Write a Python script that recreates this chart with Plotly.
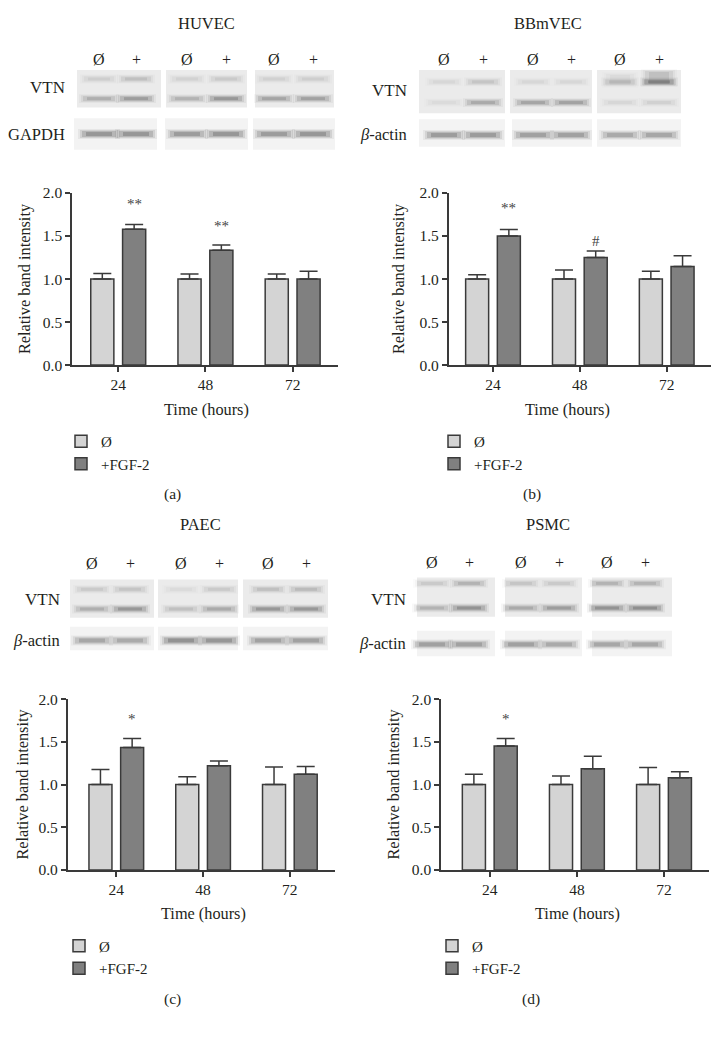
import plotly.graph_objects as go

# ---------------- data ----------------
times = ["24", "48", "72"]
series_names = ["Ø", "+FGF-2"]

huvec_ctrl = [1.0, 1.0, 1.0]
huvec_ctrl_err = [0.065, 0.06, 0.06]
huvec_fgf = [1.58, 1.335, 1.0]
huvec_fgf_err = [0.055, 0.06, 0.09]
huvec_sig = ["**", "**", ""]
huvec_sig_y = [1.87, 1.62, 0]

bbmvec_ctrl = [1.0, 1.0, 1.0]
bbmvec_ctrl_err = [0.05, 0.105, 0.09]
bbmvec_fgf = [1.5, 1.25, 1.145]
bbmvec_fgf_err = [0.075, 0.075, 0.125]
bbmvec_sig = ["**", "#", ""]
bbmvec_sig_y = [1.83, 1.44, 0]

paec_ctrl = [1.0, 1.0, 1.0]
paec_ctrl_err = [0.175, 0.09, 0.205]
paec_fgf = [1.435, 1.22, 1.12]
paec_fgf_err = [0.105, 0.055, 0.09]
paec_sig = ["*", "", ""]
paec_sig_y = [1.77, 0, 0]

psmc_ctrl = [1.0, 1.0, 1.0]
psmc_ctrl_err = [0.12, 0.1, 0.2]
psmc_fgf = [1.45, 1.185, 1.08]
psmc_fgf_err = [0.09, 0.145, 0.07]
psmc_sig = ["*", "", ""]
psmc_sig_y = [1.77, 0, 0]

yticks = [0, 0.5, 1.0, 1.5, 2.0]
lane_labels = ["Ø", "+", "Ø", "+", "Ø", "+"]

# western blot band intensities (lanes 1..6)
huvec_vtn_upper = [0.22, 0.35, 0.18, 0.25, 0.2, 0.22]
huvec_vtn_lower = [0.5, 0.7, 0.45, 0.75, 0.6, 0.65]
huvec_load = [0.8, 0.8, 0.75, 0.8, 0.75, 0.8]
bbmvec_vtn_upper = [0.15, 0.3, 0.15, 0.15, 0.3, 0.75]
bbmvec_vtn_lower = [0.1, 0.55, 0.6, 0.65, 0.15, 0.2]
bbmvec_load = [0.75, 0.75, 0.7, 0.7, 0.6, 0.65]
paec_vtn_upper = [0.25, 0.3, 0.12, 0.25, 0.35, 0.4]
paec_vtn_lower = [0.5, 0.75, 0.35, 0.55, 0.75, 0.75]
paec_load = [0.65, 0.6, 0.85, 0.8, 0.7, 0.7]
psmc_vtn_upper = [0.25, 0.45, 0.3, 0.25, 0.45, 0.45]
psmc_vtn_lower = [0.45, 0.8, 0.55, 0.7, 0.8, 0.85]
psmc_load = [0.7, 0.7, 0.7, 0.6, 0.65, 0.65]

# ---------------- layout helpers ----------------
PAGE_W, PAGE_H = 722, 1039
BODY = 8  # default page margin around the plot div
W, H = PAGE_W - 2 * BODY, PAGE_H - 2 * BODY
FONT = "Liberation Serif"
TXT = "#231f20"
AX = "#3a3a3a"
LIGHT = "#d4d4d4"
DARK = "#808080"


def X(px):
    return (px - BODY) / W


def Y(py):
    return 1 - (py - BODY) / H


panels = [
    dict(name="HUVEC", loading="GAPDH", ctrl=huvec_ctrl, ctrl_err=huvec_ctrl_err,
         fgf=huvec_fgf, fgf_err=huvec_fgf_err, sig=huvec_sig, sig_y=huvec_sig_y,
         up=huvec_vtn_upper, low=huvec_vtn_lower, load=huvec_load,
         xdom=(72, 338), ydom=(187, 362), xr=(-0.53, 2.52),
         title_xy=(206, 15), lanes=[99, 136, 187, 226, 274, 313], sign_y=51,
         vtn_boxes=[(77, 161), (166, 247), (255, 334)], vtn_y=(62, 100),
         load_boxes=[(74, 157), (165, 248), (253, 335)], load_y=(111, 143),
         up_y=71, low_y=91, load_band_y=127, label_r=67, vtn_label_y=80, load_label_y=127,
         ytitle_x=24, xtitle=(206, 407), legend=(61, 423), plabel=(172, 493)),
    dict(name="BBmVEC", loading="<i>β</i>-actin", ctrl=bbmvec_ctrl, ctrl_err=bbmvec_ctrl_err,
         fgf=bbmvec_fgf, fgf_err=bbmvec_fgf_err, sig=bbmvec_sig, sig_y=bbmvec_sig_y,
         up=bbmvec_vtn_upper, low=bbmvec_vtn_lower, load=bbmvec_load,
         xdom=(448.7, 711), ydom=(187, 362), xr=(-0.51, 2.51),
         title_xy=(548, 15), lanes=[444, 483, 533, 571, 620, 659], sign_y=51,
         vtn_boxes=[(419, 505), (510, 592), (597, 681)], vtn_y=(62, 106),
         load_boxes=[(419, 505), (512, 592), (597, 681)], load_y=(112, 140),
         up_y=74, low_y=95, load_band_y=128, label_r=409, vtn_label_y=83, load_label_y=127,
         ytitle_x=398, xtitle=(567, 407), legend=(434, 423), plabel=(532, 493)),
    dict(name="PAEC", loading="<i>β</i>-actin", ctrl=paec_ctrl, ctrl_err=paec_ctrl_err,
         fgf=paec_fgf, fgf_err=paec_fgf_err, sig=paec_sig, sig_y=paec_sig_y,
         up=paec_vtn_upper, low=paec_vtn_lower, load=paec_load,
         xdom=(67.7, 335), ydom=(701.7, 875.3), xr=(-0.56, 2.52),
         title_xy=(200, 524), lanes=[92, 130, 181, 219, 268, 306], sign_y=564,
         vtn_boxes=[(70, 154), (158, 238), (243, 328)], vtn_y=(580, 619),
         load_boxes=[(70, 154), (158, 238), (243, 328)], load_y=(628, 652),
         up_y=590, low_y=610, load_band_y=642, label_r=62, vtn_label_y=600, load_label_y=642,
         ytitle_x=23, xtitle=(203, 920), legend=(59, 936), plabel=(172, 1007)),
    dict(name="PSMC", loading="<i>β</i>-actin", ctrl=psmc_ctrl, ctrl_err=psmc_ctrl_err,
         fgf=psmc_fgf, fgf_err=psmc_fgf_err, sig=psmc_sig, sig_y=psmc_sig_y,
         up=psmc_vtn_upper, low=psmc_vtn_lower, load=psmc_load,
         xdom=(441, 709.3), ydom=(701.7, 875.3), xr=(-0.56, 2.52),
         title_xy=(548, 524), lanes=[432, 469, 521, 559, 607, 645], sign_y=563,
         vtn_boxes=[(417, 495), (505, 582), (592, 672)], vtn_y=(578, 618),
         load_boxes=[(417, 495), (505, 582), (592, 672)], load_y=(632, 658),
         up_y=584, low_y=609, load_band_y=646, label_r=408, vtn_label_y=600, load_label_y=645,
         ytitle_x=394, xtitle=(577, 920), legend=(432, 936), plabel=(531, 1007)),
]

BAR_W = 0.265
CTRL_OFF = -0.315
FGF_OFF = 0.05
FGF_CENTER = FGF_OFF + BAR_W / 2

fig = go.Figure()
shapes = []
annotations = []
layout = {}


def band(cx, cy, w, h, a):
    out = []
    for dw, dh, k in [(10, 6, 0.08), (6, 4, 0.14), (2, 2, 0.22), (-6, 0, 0.3)]:
        out.append(dict(type="rect", xref="paper", yref="paper",
                        x0=X(cx - (w + dw) / 2), x1=X(cx + (w + dw) / 2),
                        y0=Y(cy + (h + dh) / 2), y1=Y(cy - (h + dh) / 2),
                        line=dict(width=0), fillcolor=f"rgba(55,55,55,{a * k:.3f})",
                        layer="above"))
    return out


def text(x, y, s, size=16, xanchor="center", **kw):
    annotations.append(dict(text=s, x=X(x), y=Y(y), xref="paper", yref="paper",
                            showarrow=False, xanchor=xanchor, yanchor="middle",
                            font=dict(family=FONT, size=size, color=TXT), **kw))


for i, p in enumerate(panels):
    n = "" if i == 0 else str(i + 1)
    xa, ya = "x" + n, "y" + n
    lg = "legend" + n
    fig.add_trace(go.Bar(
        x=times, y=p["ctrl"], name=series_names[0], xaxis=xa, yaxis=ya,
        width=BAR_W, offset=CTRL_OFF, legend=lg,
        marker=dict(color=LIGHT, line=dict(color=AX, width=1.5)),
        error_y=dict(type="data", symmetric=False, array=p["ctrl_err"], arrayminus=[0, 0, 0],
                     color=AX, thickness=1.5, width=9)))
    fig.add_trace(go.Bar(
        x=times, y=p["fgf"], name=series_names[1], xaxis=xa, yaxis=ya,
        width=BAR_W, offset=FGF_OFF, legend=lg,
        marker=dict(color=DARK, line=dict(color=AX, width=1.5)),
        error_y=dict(type="data", symmetric=False, array=p["fgf_err"], arrayminus=[0, 0, 0],
                     color=AX, thickness=1.5, width=9)))

    layout["xaxis" + n] = dict(
        domain=[X(p["xdom"][0]), X(p["xdom"][1])], anchor=ya, type="category",
        categoryorder="array", categoryarray=times, range=list(p["xr"]),
        showline=True, linecolor=AX, linewidth=1.5, ticks="outside", ticklen=5,
        tickwidth=1.5, tickcolor=AX, showgrid=False, zeroline=False,
        tickfont=dict(family=FONT, size=15.5, color=TXT), fixedrange=True)
    layout["yaxis" + n] = dict(
        domain=[Y(p["ydom"][1]), Y(p["ydom"][0])], anchor=xa, range=[0, 2],
        tickvals=yticks, tickformat=".1f",
        showline=True, linecolor=AX, linewidth=1.5, ticks="outside", ticklen=5,
        tickwidth=1.5, tickcolor=AX, showgrid=False, zeroline=False,
        tickfont=dict(family=FONT, size=15.5, color=TXT), fixedrange=True)
    layout[lg] = dict(x=X(p["legend"][0]), y=Y(p["legend"][1]), xanchor="left", yanchor="top",
                      font=dict(family=FONT, size=15, color=TXT), bgcolor="rgba(0,0,0,0)",
                      tracegroupgap=0, traceorder="normal")

    for k, s in enumerate(p["sig"]):
        if s:
            annotations.append(dict(text=s, x=k + FGF_CENTER, y=p["sig_y"][k], xref=xa, yref=ya,
                                    showarrow=False, yanchor="middle",
                                    font=dict(family=FONT, size=15, color="#444")))

    text(*p["title_xy"], p["name"], size=16.5)
    for lx, lab in zip(p["lanes"], lane_labels):
        text(lx, p["sign_y"], lab, size=16)
    text(p["label_r"], p["vtn_label_y"], "VTN", size=17, xanchor="right")
    text(p["label_r"], p["load_label_y"], p["loading"], size=16.5, xanchor="right")
    annotations.append(dict(text="Relative band intensity", x=X(p["ytitle_x"]),
                            y=Y((p["ydom"][0] + p["ydom"][1]) / 2), xref="paper", yref="paper",
                            showarrow=False, textangle=-90, xanchor="center", yanchor="middle",
                            font=dict(family=FONT, size=16.3, color=TXT)))
    text(*p["xtitle"], "Time (hours)", size=16.3)
    text(*p["plabel"], "(" + "abcd"[i] + ")", size=15.5)

    for (x0, x1) in p["vtn_boxes"]:
        shapes.append(dict(type="rect", xref="paper", yref="paper", x0=X(x0), x1=X(x1),
                           y0=Y(p["vtn_y"][1]), y1=Y(p["vtn_y"][0]), line=dict(width=0),
                           fillcolor="#ebebeb", layer="below"))
    for (x0, x1) in p["load_boxes"]:
        shapes.append(dict(type="rect", xref="paper", yref="paper", x0=X(x0), x1=X(x1),
                           y0=Y(p["load_y"][1]), y1=Y(p["load_y"][0]), line=dict(width=0),
                           fillcolor="#f3f3f3", layer="below"))
    for j, lx in enumerate(p["lanes"]):
        shapes += band(lx, p["up_y"], 28, 3, p["up"][j])
        shapes += band(lx, p["low_y"], 30, 3, p["low"][j])
        shapes += band(lx, p["load_band_y"], 32, 4, p["load"][j])

shapes += band(659, 70, 26, 12, 0.35)
shapes += band(620, 72, 26, 10, 0.12)

fig.update_layout(
    width=W, height=H, autosize=False,
    margin=dict(l=0, r=0, t=0, b=0),
    paper_bgcolor="white", plot_bgcolor="white",
    barmode="overlay", showlegend=True,
    font=dict(family=FONT, size=15, color=TXT),
    shapes=shapes, annotations=annotations,
    **layout,
)

fig.write_html("out.html")
